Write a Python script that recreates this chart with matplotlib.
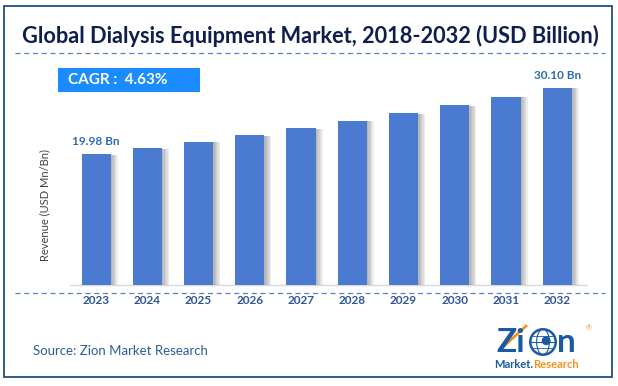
import matplotlib.pyplot as plt
import matplotlib.patheffects as pe
from matplotlib.patches import Rectangle, Circle, Ellipse
from matplotlib.lines import Line2D

# Chart data
years = ['2023', '2024', '2025', '2026', '2027', '2028', '2029', '2030', '2031', '2032']
revenue = [19.98, 20.90, 21.87, 22.88, 23.94, 25.05, 26.21, 27.42, 28.69, 30.10]
first_label = '19.98 Bn'
last_label = '30.10 Bn'
title = 'Global Dialysis Equipment Market, 2018-2032 (USD Billion)'
cagr = 'CAGR :  4.63%'
ylabel = 'Revenue (USD Mn/Bn)'
source = 'Source: Zion Market Research'

W, H = 618, 386
fig = plt.figure(figsize=(W / 100, H / 100), dpi=100)
fig.patch.set_facecolor('white')


def px(x, y):
    # pixel coords (top-left origin) -> figure fraction
    return x / W, 1 - y / H


# outer frame
fig.add_artist(Rectangle(px(4, 377), 608 / W, 371 / H, transform=fig.transFigure,
                         fill=False, edgecolor='#1f4e79', linewidth=1.3))

# title and dashed separators
fig.text(*px(310, 36), title, ha='center', va='center', fontsize=15.7,
         fontweight='bold', color='#0e1f4d', family='Lato')
for yy in (53, 293):
    fig.add_artist(Line2D([15 / W, 605 / W], [1 - yy / H] * 2, transform=fig.transFigure,
                          color='#5b7fc0', linewidth=0.9, linestyle=(0, (4, 3))))

# CAGR box
fig.add_artist(Rectangle(px(58, 92), 142 / W, 24 / H, transform=fig.transFigure,
                         facecolor='#1a8cff', edgecolor='none'))
fig.text(*px(68, 80), cagr, ha='left', va='center', fontsize=11,
         fontweight='bold', color='white', family='Lato')

# bar chart
ax = fig.add_axes([70 / W, 1 - 285 / H, 517 / W, 225 / H])
x = list(range(len(years)))
bars = ax.bar(x, revenue, width=0.57, color='#4a7bd1', zorder=3)
# soft shadow on the right side of each bar
shadow = [pe.SimplePatchShadow(offset=(k, -0.5), shadow_rgbFace='#606060', alpha=0.11)
          for k in (1, 2, 3, 4, 5)]
for b in bars:
    b.set_path_effects(shadow + [pe.Normal()])
ax.set_xlim(-0.51, 9.58)
ax.set_ylim(0, 34.3)
ax.set_xticks(x)
ax.set_xticklabels(years, fontsize=8.5, fontweight='bold', color='#2f5597', family='Lato')
ax.tick_params(axis='x', length=0, pad=7)
ax.set_yticks([])
for s in ('top', 'right', 'left'):
    ax.spines[s].set_visible(False)
ax.spines['bottom'].set_color('#d9d9d9')
ax.spines['bottom'].set_linewidth(1)

ax.annotate(first_label, (0, revenue[0]), xytext=(0, 5), textcoords='offset points',
            ha='center', va='bottom', fontsize=8.5, fontweight='bold', color='#2e6bb3', family='Lato')
ax.annotate(last_label, (9, revenue[-1]), xytext=(0, 5), textcoords='offset points',
            ha='center', va='bottom', fontsize=8.5, fontweight='bold', color='#2e6bb3', family='Lato')

fig.text(*px(45, 205), ylabel, rotation=90, ha='center', va='center', fontsize=8,
         color='#404040', family='Lato')

# source
fig.text(*px(33, 351), source, ha='left', va='center', fontsize=9.5,
         color='#2f5c99', family='Lato')

# logo (approximate, drawn with text and shapes)
blue = '#1b5aa3'
orange = '#f5921e'
fig.text(*px(496, 342), 'Zi', ha='left', va='center', fontsize=24, fontweight='bold',
         color=blue, family='Lato')
globe_ax = fig.add_axes([529 / W, 1 - 356 / H, 28 / W, 28 / H])
globe_ax.set_xlim(-1.1, 1.1)
globe_ax.set_ylim(-1.1, 1.1)
globe_ax.set_aspect('equal')
globe_ax.axis('off')
globe_ax.add_patch(Circle((0, 0), 1, facecolor='white', edgecolor=blue, linewidth=1.8))
globe_ax.add_patch(Ellipse((0, 0), 1.0, 2.0, fill=False, edgecolor=blue, linewidth=0.8))
globe_ax.plot([-1, 1], [0, 0], color=blue, linewidth=0.8)
globe_ax.plot([-0.87, 0.87], [0.5, 0.5], color=blue, linewidth=0.6)
globe_ax.plot([-0.87, 0.87], [-0.5, -0.5], color=blue, linewidth=0.6)
globe_ax.add_patch(Circle((0.25, 0.1), 0.35, facecolor=blue, edgecolor='none'))
fig.text(*px(557, 342), 'n', ha='left', va='center', fontsize=24, fontweight='bold',
         color=blue, family='Lato')
fig.text(*px(586, 328), '®', ha='left', va='center', fontsize=5, color=orange, family='Lato')
fig.add_artist(Line2D([503 / W, 526 / W], [1 - 347 / H, 1 - 326 / H], transform=fig.transFigure,
                      color=orange, linewidth=2))
fig.text(*px(494, 364), 'Market.', ha='left', va='center', fontsize=8, fontweight='bold',
         color=blue, family='Lato')
fig.text(*px(533, 364), 'Research', ha='left', va='center', fontsize=8, fontweight='bold',
         color=orange, family='Lato')

fig.savefig('out.png', dpi=100, facecolor='white')
